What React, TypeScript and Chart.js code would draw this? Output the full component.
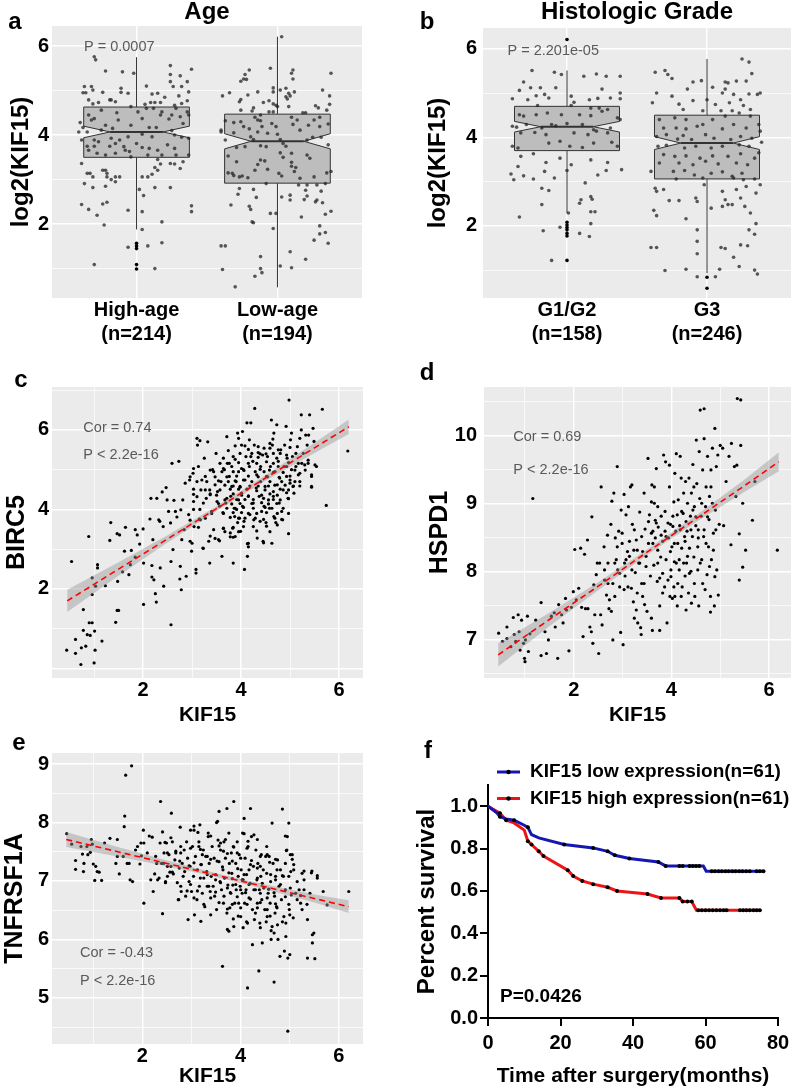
import React, { useEffect, useRef } from "react";
import { Chart, registerables } from "chart.js";

Chart.register(...registerables);
const FONT = "'Liberation Sans', Arial, Helvetica, sans-serif";
Chart.defaults.font.family = FONT;
Chart.defaults.color = "#000";

// ---------------- Panel a: Age box plot ----------------
const ageGroups = ["High-age", "Low-age"];
const ageCounts = [214, 194];
const ageQ1 = [3.5, 2.92];
const ageMedian = [4.07, 3.86];
const ageQ3 = [4.63, 4.47];
const ageWhiskerLow = [1.88, 0.58];
const ageWhiskerHigh = [5.75, 6.21];
const ageNotch = [0.13, 0.17];
const highAgeOutliers = [1.57, 1.51, 1.45, 1.09, 0.99];
const lowAgeOutliers: number[] = [];
// [jitter offset from group centre, log2(KIF15)]
const highAgeJitter = [[-0.30,5.76],[-0.29,5.69],[-0.22,5.44],[-0.10,5.42],[-0.02,5.39],[0.24,5.56],[0.39,5.48],[0.24,5.36],[0.31,5.33],[0.24,5.20],[0.36,5.20],[-0.37,5.09],[-0.32,5.09],[0.07,5.10],[0.26,5.09],[-0.31,5.01],[-0.11,5.05],[0.32,5.09],[-0.38,4.95],[-0.36,4.95],[-0.24,4.96],[-0.11,4.96],[-0.06,4.94],[0.11,4.92],[0.15,4.94],[0.37,4.97],[0.30,4.88],[0.20,4.85],[-0.34,4.79],[0.36,4.77],[-0.19,4.79],[-0.18,4.79],[-0.27,4.73],[-0.15,4.75],[-0.31,4.70],[0.10,4.73],[0.13,4.73],[0.17,4.73],[0.06,4.69],[0.27,4.67],[0.32,4.71],[0.28,4.60],[0.07,4.60],[0.12,4.60],[-0.04,4.64],[-0.25,4.56],[-0.14,4.50],[0.01,4.52],[0.18,4.52],[0.36,4.52],[-0.34,4.45],[-0.30,4.37],[-0.32,4.34],[-0.13,4.34],[0.17,4.45],[0.25,4.45],[0.31,4.41],[0.04,4.37],[0.23,4.36],[0.37,4.45],[-0.40,4.28],[-0.38,4.17],[-0.22,4.22],[-0.17,4.15],[-0.04,4.22],[0.09,4.17],[0.14,4.17],[0.33,4.26],[0.25,4.10],[-0.35,4.07],[-0.25,4.11],[-0.41,4.07],[-0.30,3.89],[-0.18,3.93],[-0.12,3.89],[-0.06,3.96],[0.04,4.02],[0.11,3.96],[0.27,4.00],[0.32,3.95],[0.37,3.93],[-0.39,3.89],[-0.27,3.85],[-0.15,3.81],[0.00,3.81],[-0.35,3.75],[-0.30,3.75],[-0.19,3.75],[-0.09,3.74],[0.04,3.72],[0.22,3.78],[0.27,3.70],[0.09,3.70],[-0.34,3.66],[-0.08,3.66],[-0.05,3.63],[0.15,3.66],[-0.22,3.55],[-0.15,3.59],[-0.04,3.51],[0.08,3.55],[0.18,3.55],[0.28,3.55],[0.37,3.55],[-0.28,3.59],[-0.39,3.36],[0.15,3.45],[0.17,3.35],[0.24,3.36],[0.27,3.35],[0.33,3.40],[0.13,3.27],[0.15,3.21],[0.31,3.25],[-0.24,3.21],[-0.22,3.21],[-0.35,3.14],[-0.33,3.14],[-0.21,3.14],[0.11,3.12],[-0.31,3.06],[-0.21,3.06],[-0.15,3.06],[-0.12,3.06],[0.04,3.06],[0.08,3.06],[-0.18,3.00],[-0.15,2.95],[-0.37,2.91],[-0.22,2.85],[-0.31,2.82],[0.02,2.78],[0.13,2.82],[0.24,2.82],[0.05,2.64],[-0.39,2.44],[-0.24,2.45],[-0.21,2.49],[-0.34,2.33],[-0.06,2.31],[0.04,2.28],[0.39,2.41],[0.39,2.28],[-0.28,2.20],[0.18,2.05],[-0.23,1.98],[0.04,1.88],[-0.06,1.48],[0.08,1.51],[0.18,1.58],[-0.30,1.09],[0.13,1.00]];
const lowAgeJitter = [[0.03,6.21],[-0.20,5.46],[-0.23,5.36],[-0.24,5.26],[-0.22,5.25],[-0.26,5.21],[-0.05,5.50],[0.11,5.46],[0.10,5.39],[0.11,5.26],[0.38,5.39],[0.32,5.01],[-0.34,4.95],[-0.39,4.88],[-0.03,5.06],[-0.03,4.97],[-0.14,4.97],[-0.21,4.90],[0.02,5.01],[0.06,5.05],[0.08,4.94],[0.12,4.97],[0.09,4.88],[0.06,4.86],[0.07,4.81],[0.37,4.88],[-0.26,4.80],[-0.27,4.75],[-0.10,4.73],[-0.06,4.77],[0.37,4.69],[0.27,4.66],[0.29,4.61],[-0.17,4.61],[-0.03,4.70],[-0.01,4.67],[0.00,4.64],[0.08,4.64],[-0.26,4.56],[-0.18,4.54],[-0.06,4.52],[-0.03,4.52],[0.35,4.56],[0.18,4.50],[0.20,4.50],[-0.12,4.45],[-0.37,4.32],[-0.31,4.28],[-0.26,4.30],[-0.16,4.40],[-0.14,4.34],[-0.12,4.32],[0.10,4.40],[0.14,4.34],[0.26,4.34],[0.30,4.40],[-0.40,4.11],[-0.40,4.07],[-0.31,4.05],[-0.24,4.19],[-0.20,4.14],[-0.11,4.19],[-0.04,4.26],[-0.01,4.19],[0.11,4.24],[0.16,4.11],[0.22,4.22],[0.30,4.19],[0.36,4.25],[-0.37,3.89],[-0.19,3.96],[-0.17,3.90],[-0.14,4.07],[-0.07,4.04],[0.00,4.02],[0.02,3.90],[0.04,3.81],[0.21,3.89],[0.25,3.95],[0.31,3.95],[0.36,3.78],[-0.29,3.72],[-0.23,3.74],[-0.12,3.76],[-0.08,3.74],[0.06,3.75],[-0.35,3.53],[0.02,3.60],[0.04,3.50],[0.10,3.59],[0.21,3.55],[0.23,3.48],[-0.29,3.40],[-0.12,3.44],[-0.09,3.42],[-0.14,3.34],[-0.07,3.23],[0.10,3.39],[0.10,3.30],[0.13,3.27],[-0.16,3.21],[0.12,3.18],[-0.35,3.15],[-0.32,3.14],[-0.31,3.09],[-0.27,3.06],[-0.25,3.08],[-0.21,3.04],[0.01,3.14],[0.03,3.08],[0.16,3.03],[0.26,3.06],[0.35,3.15],[0.38,3.18],[-0.08,2.91],[0.15,2.88],[0.21,2.88],[0.28,2.88],[0.34,2.91],[-0.27,2.80],[-0.17,2.78],[0.20,2.76],[0.31,2.74],[-0.28,2.67],[0.03,2.61],[0.09,2.65],[0.21,2.63],[-0.15,2.60],[0.09,2.54],[0.19,2.55],[0.28,2.54],[0.27,2.50],[0.32,2.48],[-0.33,2.43],[-0.20,2.40],[-0.19,2.33],[0.38,2.29],[-0.05,2.24],[-0.01,2.24],[0.34,2.22],[0.17,2.16],[-0.18,2.05],[-0.17,2.03],[0.30,1.96],[-0.03,1.90],[0.30,1.78],[0.34,1.81],[0.26,1.64],[0.36,1.57],[-0.40,1.51],[-0.37,1.51],[0.09,1.38],[0.20,1.21],[-0.12,1.27],[0.02,1.06],[-0.39,0.98],[-0.12,1.00],[-0.11,0.91],[0.10,1.02],[-0.16,0.83],[-0.30,0.59]];

// ---------------- Panel b: Histologic grade box plot ----------------
const gradeGroups = ["G1/G2", "G3"];
const gradeCounts = [158, 246];
const gradeQ1 = [3.7, 3.06];
const gradeMedian = [4.24, 3.87];
const gradeQ3 = [4.7, 4.5];
const gradeWhiskerLow = [2.29, 0.93];
const gradeWhiskerHigh = [5.51, 5.77];
const gradeNotch = [0.12, 0.145];
const g12Outliers = [6.21, 2.08, 2.02, 1.96, 1.91, 1.83, 1.77, 1.22];
const g3Outliers = [0.84, 0.59];
const g12Jitter = [[-0.25,5.51],[-0.09,5.47],[-0.04,5.42],[0.12,5.38],[0.21,5.43],[0.28,5.38],[0.38,5.38],[-0.31,5.25],[-0.34,5.06],[-0.26,5.12],[-0.19,5.12],[-0.08,5.12],[0.25,5.09],[-0.16,4.97],[-0.22,4.94],[0.03,4.93],[-0.39,4.87],[-0.28,4.85],[-0.13,4.89],[0.05,4.79],[0.16,4.85],[0.22,4.88],[0.38,4.87],[0.38,5.00],[0.31,4.89],[0.03,4.72],[-0.21,4.72],[0.17,4.66],[0.23,4.66],[0.29,4.63],[-0.34,4.51],[-0.31,4.48],[-0.22,4.51],[-0.14,4.55],[-0.04,4.51],[0.09,4.51],[0.17,4.49],[0.25,4.59],[0.36,4.44],[-0.39,4.25],[-0.36,4.23],[-0.29,4.29],[-0.18,4.21],[-0.11,4.29],[-0.08,4.26],[0.00,4.31],[0.11,4.29],[0.19,4.17],[0.21,4.14],[0.31,4.21],[0.38,4.40],[-0.33,4.10],[-0.23,4.11],[-0.15,4.06],[0.05,4.10],[0.15,4.06],[0.29,4.10],[-0.39,3.80],[-0.35,3.76],[-0.13,3.87],[-0.05,3.91],[0.02,3.80],[0.11,3.77],[0.19,3.87],[0.32,3.89],[0.36,3.80],[-0.33,3.57],[-0.24,3.63],[-0.15,3.43],[-0.05,3.53],[0.03,3.38],[0.17,3.49],[0.29,3.43],[-0.35,3.34],[-0.40,3.17],[-0.38,3.04],[-0.31,3.13],[-0.24,3.06],[-0.16,3.23],[-0.09,3.08],[0.00,3.25],[0.22,3.15],[0.28,3.25],[0.39,3.27],[-0.18,2.85],[-0.13,2.80],[0.13,2.97],[0.17,2.66],[0.18,2.60],[0.10,2.59],[0.09,2.51],[-0.18,2.48],[-0.34,2.20],[0.17,2.32],[0.20,2.32],[0.01,2.29],[0.17,2.05],[-0.05,1.97],[-0.17,1.89],[0.09,1.83],[0.16,1.76],[-0.11,1.22]];
const g3Jitter = [[0.25,5.77],[0.30,5.70],[-0.37,5.47],[-0.30,5.51],[-0.28,5.42],[-0.25,5.33],[-0.10,5.25],[-0.04,5.28],[0.32,5.44],[0.13,5.25],[0.15,5.23],[0.21,5.27],[0.28,5.27],[-0.14,5.09],[0.04,5.13],[0.13,5.09],[-0.36,5.00],[-0.25,4.93],[0.11,5.00],[0.19,4.97],[0.30,4.98],[0.36,4.97],[0.38,5.00],[-0.39,4.78],[-0.20,4.75],[-0.10,4.83],[0.00,4.85],[0.06,4.74],[0.16,4.78],[0.24,4.85],[0.26,4.72],[0.31,4.63],[-0.17,4.63],[-0.03,4.60],[0.10,4.60],[0.18,4.60],[0.23,4.55],[-0.34,4.40],[-0.23,4.44],[-0.15,4.40],[0.04,4.40],[0.13,4.48],[0.31,4.48],[-0.31,4.21],[-0.22,4.21],[-0.15,4.19],[-0.07,4.25],[-0.03,4.29],[0.11,4.19],[0.19,4.29],[0.28,4.21],[0.37,4.29],[0.38,4.14],[-0.36,4.02],[-0.29,4.06],[-0.21,3.96],[-0.17,4.04],[-0.11,3.95],[-0.01,4.06],[0.05,3.98],[0.17,3.95],[0.24,4.02],[0.32,3.98],[0.39,3.89],[-0.35,3.80],[-0.29,3.82],[-0.16,3.76],[-0.08,3.80],[0.03,3.76],[0.11,3.80],[0.23,3.83],[0.30,3.80],[0.37,3.65],[-0.31,3.61],[-0.23,3.57],[-0.15,3.58],[-0.05,3.53],[0.04,3.58],[0.15,3.57],[0.24,3.63],[0.34,3.53],[-0.34,3.42],[-0.20,3.42],[-0.10,3.38],[-0.01,3.46],[0.08,3.40],[0.21,3.42],[0.29,3.38],[-0.24,3.23],[-0.16,3.25],[-0.09,3.15],[0.03,3.19],[0.11,3.22],[0.18,3.12],[0.25,3.19],[-0.40,3.23],[-0.22,3.06],[-0.03,3.08],[0.19,3.08],[0.26,3.04],[0.34,3.06],[0.38,2.93],[-0.37,2.85],[-0.36,2.78],[-0.31,2.82],[-0.02,2.93],[0.11,2.78],[0.21,2.82],[0.28,2.89],[0.35,2.74],[-0.08,2.63],[-0.07,2.55],[-0.27,2.57],[-0.20,2.57],[0.13,2.59],[0.24,2.63],[0.18,2.48],[0.03,2.40],[0.11,2.44],[0.15,2.48],[0.27,2.44],[0.31,2.29],[-0.38,2.35],[-0.36,2.23],[-0.15,2.16],[0.35,2.05],[0.30,1.91],[-0.07,1.91],[0.34,1.81],[-0.07,1.65],[-0.40,1.51],[-0.36,1.51],[0.10,1.51],[0.13,1.49],[0.24,1.57],[0.29,1.55],[-0.07,1.37],[0.19,1.29],[-0.15,1.02],[-0.30,0.99],[0.09,1.02],[0.23,1.08],[0.34,1.00],[0.36,0.91],[-0.07,0.85],[0.06,0.85]];

// ---------------- Panels c, d, e: correlation with KIF15 ----------------
// [KIF15, gene]
const birc5Points = [[0.44,0.46],[0.62,0.73],[0.62,0.38],[0.73,0.10],[0.74,0.52],[0.78,1.48],[0.78,0.96],[0.83,0.56],[0.86,0.85],[0.90,1.15],[0.92,0.83],[0.96,1.15],[1.00,0.14],[1.01,0.94],[1.02,0.46],[1.16,0.69],[0.54,2.69],[0.89,3.32],[0.96,2.28],[0.96,1.86],[1.07,2.61],[1.07,2.53],[1.03,2.07],[1.23,2.08],[1.34,3.67],[1.32,3.22],[1.44,1.16],[1.47,1.46],[1.50,1.46],[1.47,3.39],[1.52,3.36],[1.48,2.19],[1.58,2.43],[1.62,2.95],[1.64,3.55],[1.71,2.36],[1.76,2.97],[1.74,2.61],[1.84,3.49],[1.84,2.80],[1.88,3.36],[1.93,3.13],[2.00,3.51],[2.01,2.65],[2.01,1.61],[2.14,3.76],[2.16,4.28],[2.20,3.24],[2.18,2.59],[2.18,2.30],[2.22,2.23],[2.25,1.88],[2.27,1.67],[2.28,4.28],[2.32,3.74],[2.34,3.70],[2.35,2.53],[2.39,4.44],[2.41,3.57],[2.42,2.07],[2.47,4.55],[2.49,4.24],[2.52,3.95],[2.56,3.66],[2.57,2.69],[2.57,1.10],[2.59,5.16],[2.61,2.99],[2.63,4.23],[2.66,3.95],[2.69,3.81],[2.73,5.21],[2.75,2.25],[2.76,2.57],[2.77,3.99],[2.78,1.98],[2.79,3.24],[2.81,4.24],[2.84,3.49],[2.86,4.66],[2.88,2.32],[2.93,3.87],[2.95,4.74],[2.96,3.20],[3.00,3.15],[2.99,2.95],[3.02,4.91],[3.03,4.38],[3.03,4.20],[3.04,3.57],[3.08,2.49],[3.08,2.40],[3.10,5.79],[3.11,5.62],[3.13,5.08],[3.15,3.76],[3.17,3.74],[3.18,4.49],[3.20,4.74],[3.22,3.03],[3.23,4.16],[3.25,5.29],[3.27,4.83],[3.29,4.28],[3.32,5.70],[3.34,3.20],[3.36,4.49],[3.36,2.65],[3.37,4.37],[3.40,3.95],[3.42,5.00],[3.44,3.49],[3.47,4.62],[3.49,5.41],[3.51,4.20],[3.52,4.45],[3.54,3.24],[3.56,4.08],[3.57,5.16],[3.59,4.70],[3.61,2.82],[3.63,3.92],[3.64,3.53],[3.66,5.00],[3.67,4.24],[3.69,4.16],[3.71,5.83],[3.72,5.16],[3.74,5.48],[3.76,4.83],[3.78,3.31],[3.79,4.33],[3.81,4.58],[3.83,3.53],[3.84,2.65],[3.86,4.03],[3.87,3.82],[3.88,3.32],[3.88,5.26],[3.90,4.70],[3.91,4.00],[3.93,3.67],[3.93,5.92],[3.95,4.24],[3.95,4.95],[3.97,3.78],[3.98,4.58],[3.99,3.45],[4.01,5.62],[4.01,4.41],[4.03,4.08],[4.05,5.00],[4.06,3.70],[4.07,2.49],[4.08,4.74],[4.10,5.33],[4.12,6.18],[4.13,3.14],[4.13,2.82],[4.15,4.33],[4.17,5.75],[4.18,3.87],[4.20,6.18],[4.22,4.70],[4.24,5.21],[4.25,4.16],[4.26,3.74],[4.28,6.54],[4.31,4.54],[4.32,4.87],[4.33,3.28],[4.35,5.58],[4.37,4.33],[4.39,3.70],[4.40,5.08],[4.42,3.95],[4.44,5.37],[4.45,3.20],[4.47,4.08],[4.49,4.58],[4.51,3.67],[4.52,4.83],[4.54,5.33],[4.56,4.24],[4.58,4.03],[4.59,4.70],[4.60,5.08],[4.62,6.25],[4.64,5.62],[4.66,4.33],[4.67,3.82],[4.69,4.95],[4.71,3.67],[4.73,6.13],[4.74,4.62],[4.76,5.21],[4.78,4.16],[4.79,4.79],[4.81,5.50],[4.83,3.95],[4.85,3.74],[4.86,4.49],[4.88,5.08],[4.89,5.62],[4.92,6.09],[4.93,4.83],[4.94,5.29],[4.96,4.28],[4.97,3.39],[4.98,6.75],[5.00,4.66],[5.01,5.75],[5.03,5.00],[5.05,5.33],[5.06,4.58],[5.08,4.41],[5.10,4.70],[5.12,5.08],[5.15,5.58],[5.17,5.16],[5.20,4.91],[5.23,6.38],[5.23,6.00],[5.27,5.41],[5.30,5.12],[5.32,5.87],[5.35,5.62],[5.37,5.16],[5.40,6.38],[5.44,4.83],[5.44,4.58],[5.47,6.04],[5.51,5.12],[5.54,5.08],[5.66,6.52],[5.74,4.10],[6.18,5.47]];
const birc5CorePoints = [[4.03,5.96],[4.67,5.92],[5.38,5.87],[3.95,5.79],[5.03,5.92],[5.20,5.79],[3.16,5.73],[4.65,5.77],[4.59,5.66],[5.49,5.71],[3.88,5.60],[4.08,5.60],[4.27,5.62],[5.00,5.56],[4.15,5.51],[4.47,5.54],[4.59,5.54],[4.76,5.50],[3.98,5.41],[4.22,5.41],[4.35,5.43],[4.39,5.40],[4.51,5.40],[4.66,5.41],[4.80,5.41],[4.93,5.37],[5.12,5.41],[3.64,5.29],[3.84,5.33],[4.20,5.33],[4.35,5.31],[4.73,5.29],[5.37,5.24],[3.76,5.16],[3.95,5.18],[4.15,5.16],[4.32,5.16],[4.52,5.20],[4.66,5.16],[4.97,5.18],[5.24,5.16],[3.03,5.03],[3.37,4.99],[3.64,5.03],[3.81,5.08],[4.01,5.03],[4.17,5.08],[4.39,5.01],[4.58,4.99],[4.76,5.08],[4.93,5.08],[5.10,4.99],[5.31,4.99],[3.44,4.95],[3.61,4.95],[3.84,4.95],[4.06,4.98],[4.29,4.95],[4.47,4.95],[4.66,4.93],[4.86,4.93],[2.96,4.82],[3.47,4.82],[3.71,4.82],[3.91,4.84],[4.15,4.84],[4.35,4.82],[4.54,4.82],[4.78,4.81],[5.00,4.84],[5.17,4.87],[5.44,4.87],[3.10,4.70],[3.30,4.70],[3.54,4.72],[3.74,4.70],[3.88,4.72],[4.05,4.74],[4.40,4.70],[4.83,4.70],[5.00,4.74],[5.20,4.70],[3.67,4.61],[3.84,4.59],[3.98,4.56],[4.18,4.59],[4.35,4.59],[4.56,4.59],[4.69,4.61],[4.90,4.61],[5.07,4.59],[5.20,4.59],[5.44,4.56],[3.03,4.51],[3.27,4.49],[3.57,4.49],[3.78,4.51],[3.95,4.51],[4.12,4.51],[4.32,4.47],[4.49,4.49],[4.66,4.45],[4.80,4.51],[4.97,4.49],[3.37,4.39],[3.50,4.36],[3.84,4.39],[4.01,4.36],[4.15,4.34],[4.42,4.36],[4.59,4.39],[4.74,4.36],[4.93,4.42],[3.10,4.32],[3.71,4.28],[3.91,4.25],[4.08,4.25],[4.25,4.25],[4.46,4.28],[4.66,4.25],[4.80,4.24],[4.97,4.27],[3.54,4.15],[3.81,4.14],[3.98,4.15],[4.22,4.15],[4.42,4.17],[4.56,4.14],[4.73,4.15],[3.03,4.00],[3.16,4.00],[3.71,4.03],[3.88,4.03],[4.05,4.05],[4.25,4.03],[4.49,4.05],[4.63,4.03],[4.86,4.03],[3.40,3.90],[3.64,3.90],[3.84,3.92],[4.01,3.92],[4.15,3.90],[4.32,3.90],[4.52,3.92],[4.74,3.90],[4.97,3.90],[2.96,3.73],[3.27,3.78],[3.78,3.80],[3.95,3.78],[4.08,3.78],[4.29,3.78],[4.46,3.75],[4.69,3.78],[4.83,3.75],[3.13,3.55],[3.64,3.52],[3.84,3.55],[4.05,3.57],[4.25,3.57],[4.52,3.58],[4.74,3.61],[3.67,3.44],[3.78,3.41],[3.95,3.44],[4.32,3.46],[4.59,3.44],[3.37,3.33],[3.84,3.30],[3.47,3.27],[3.56,3.21],[4.15,3.15],[4.46,3.16],[4.63,3.15],[3.23,3.02],[4.15,3.06]];
const hspd1Points = [[0.46,7.10],[0.54,6.98],[0.63,7.19],[0.63,7.02],[0.71,6.90],[0.76,7.33],[0.78,7.08],[0.81,6.98],[0.86,7.37],[0.88,7.12],[0.90,6.85],[0.93,7.29],[0.97,6.95],[0.99,6.73],[1.00,6.68],[1.01,7.00],[1.05,7.35],[1.07,6.83],[1.10,7.09],[1.16,9.08],[1.22,7.29],[1.33,7.55],[1.33,6.77],[1.41,7.12],[1.44,6.80],[1.48,7.00],[1.54,7.35],[1.60,7.40],[1.62,7.19],[1.67,6.73],[1.69,7.52],[1.75,7.37],[1.78,7.25],[1.83,7.61],[1.85,7.44],[1.90,6.84],[1.95,7.48],[1.99,7.71],[2.02,8.33],[2.05,7.59],[2.10,7.76],[2.14,8.35],[2.16,7.48],[2.19,7.05],[2.22,8.26],[2.24,7.46],[2.28,8.47],[2.29,7.46],[2.33,7.19],[2.36,7.12],[2.37,8.81],[2.39,6.95],[2.41,7.81],[2.43,7.37],[2.46,7.96],[2.48,8.13],[2.51,6.80],[2.53,8.13],[2.55,7.37],[2.56,9.25],[2.58,7.22],[2.62,8.37],[2.63,7.88],[2.67,7.66],[2.69,8.54],[2.70,7.83],[2.72,7.46],[2.73,7.59],[2.76,8.70],[2.77,7.42],[2.78,9.04],[2.80,7.00],[2.82,9.16],[2.84,8.13],[2.85,8.50],[2.87,8.18],[2.89,9.55],[2.90,8.03],[2.92,8.60],[2.94,7.78],[2.96,7.11],[2.97,8.91],[2.99,8.57],[3.01,6.93],[3.03,9.14],[3.04,8.13],[3.05,7.94],[3.07,8.84],[3.10,8.30],[3.11,7.78],[3.12,8.96],[3.14,8.45],[3.16,9.25],[3.18,7.76],[3.19,9.28],[3.20,8.70],[3.22,7.56],[3.23,8.32],[3.24,7.32],[3.26,7.99],[3.28,8.47],[3.30,7.69],[3.31,7.25],[3.33,8.13],[3.35,8.88],[3.37,7.18],[3.38,7.08],[3.39,7.83],[3.41,8.30],[3.44,9.16],[3.45,7.52],[3.46,8.63],[3.48,8.08],[3.50,7.42],[3.52,9.67],[3.53,8.42],[3.55,8.84],[3.57,7.94],[3.59,7.32],[3.60,9.28],[3.61,7.14],[3.62,8.60],[3.64,8.10],[3.65,9.01],[3.67,8.76],[3.67,8.50],[3.69,9.52],[3.71,7.86],[3.72,8.32],[3.73,8.66],[3.76,7.50],[3.76,7.14],[3.78,8.22],[3.79,8.82],[3.82,7.98],[3.82,8.45],[3.84,9.72],[3.86,7.78],[3.87,8.60],[3.88,9.62],[3.89,8.18],[3.91,7.25],[3.93,7.88],[3.94,8.50],[3.96,9.57],[3.97,7.64],[3.98,8.70],[3.99,8.03],[4.01,8.37],[4.02,7.61],[4.03,8.82],[4.05,7.78],[4.06,8.15],[4.07,9.45],[4.09,8.60],[4.10,9.74],[4.12,7.50],[4.13,8.42],[4.14,9.06],[4.16,8.03],[4.17,8.68],[4.18,9.70],[4.20,9.38],[4.21,8.35],[4.22,7.78],[4.24,8.86],[4.25,9.16],[4.27,8.52],[4.28,7.94],[4.29,9.33],[4.31,8.13],[4.32,8.60],[4.33,9.01],[4.35,7.69],[4.36,9.38],[4.37,8.35],[4.39,8.82],[4.40,8.01],[4.41,9.16],[4.43,8.52],[4.44,9.58],[4.46,8.22],[4.47,8.96],[4.48,7.64],[4.50,8.68],[4.51,9.94],[4.52,9.30],[4.54,8.03],[4.55,8.50],[4.56,7.50],[4.57,9.77],[4.58,9.08],[4.59,10.38],[4.61,8.82],[4.62,8.18],[4.64,9.50],[4.66,8.52],[4.67,10.40],[4.67,9.96],[4.69,7.74],[4.70,8.96],[4.71,9.25],[4.73,7.96],[4.74,9.70],[4.76,8.37],[4.77,8.77],[4.78,9.11],[4.80,7.64],[4.81,9.50],[4.82,8.18],[4.84,9.82],[4.86,8.57],[4.88,7.50],[4.89,10.11],[4.90,8.91],[4.92,9.55],[4.93,8.03],[4.95,9.72],[4.96,7.66],[4.98,8.70],[5.00,9.86],[5.05,9.82],[5.07,8.68],[5.12,9.33],[5.18,9.70],[5.22,8.40],[5.23,9.89],[5.29,9.55],[5.32,9.11],[5.34,9.57],[5.35,10.55],[5.39,8.56],[5.39,7.88],[5.42,10.53],[5.42,9.86],[5.46,9.01],[5.46,8.07],[5.52,8.32],[5.66,8.76],[5.71,9.33],[6.17,8.32]];
const hspd1CorePoints = [[3.53,8.74],[3.59,8.57],[3.62,8.42],[3.69,8.72],[3.72,8.13],[3.76,7.91],[3.79,8.54],[3.82,7.69],[3.87,8.89],[3.72,8.96],[3.65,9.25],[3.59,9.03],[3.89,8.52],[3.93,8.72],[3.98,8.30],[4.03,8.67],[4.06,8.42],[4.10,8.13],[4.12,8.84],[4.13,7.83],[4.05,9.03],[3.96,9.25],[3.99,7.93],[4.07,7.64],[4.16,8.18],[4.18,8.62],[4.21,8.89],[4.25,8.13],[4.28,8.45],[4.30,8.74],[4.33,8.23],[4.37,7.98],[4.40,8.62],[4.44,8.91],[4.46,9.25],[4.41,7.54],[4.20,7.64],[4.30,7.44],[4.47,7.83],[4.50,8.81],[4.54,8.37],[4.55,8.62],[4.59,8.13],[4.62,9.01],[4.64,7.83],[4.67,8.62],[4.71,8.42],[4.74,8.81],[4.78,8.08],[4.81,9.25],[4.84,9.01],[4.86,8.32],[4.89,7.93],[4.91,8.62],[4.80,7.41],[3.14,8.23],[3.19,8.03],[3.24,8.62],[3.30,8.32],[3.35,8.13],[3.39,8.52],[3.44,7.83],[3.48,8.23],[3.28,7.44],[3.41,7.64],[2.70,8.13],[2.80,7.83],[2.89,8.37],[2.94,7.98],[3.03,7.74],[3.07,8.18],[2.99,8.42],[2.84,7.64],[2.63,8.03]];
const tnfrsf1aPoints = [[0.46,7.81],[0.56,7.63],[0.64,7.35],[0.64,7.20],[0.75,7.59],[0.78,7.46],[0.81,7.30],[0.80,7.16],[0.87,7.59],[0.89,7.45],[0.94,7.49],[0.96,7.71],[0.98,7.63],[1.00,7.29],[1.03,7.01],[1.05,7.25],[1.08,7.16],[1.12,7.15],[1.17,7.01],[1.23,7.65],[1.34,7.73],[1.46,7.30],[1.49,7.42],[1.49,7.71],[1.53,7.12],[1.61,7.42],[1.63,7.93],[1.64,8.11],[1.66,8.81],[1.69,7.30],[1.73,7.30],[1.75,7.02],[1.78,8.97],[1.80,6.99],[1.86,7.53],[1.90,7.59],[1.95,7.29],[1.97,7.65],[1.98,7.43],[2.02,7.87],[2.03,6.62],[2.03,7.65],[2.10,7.48],[2.14,7.77],[2.17,7.02],[2.20,7.75],[2.22,6.82],[2.25,7.12],[2.27,7.42],[2.29,7.30],[2.31,7.02],[2.34,7.05],[2.36,7.65],[2.37,8.36],[2.41,6.44],[2.41,7.84],[2.43,7.30],[2.44,7.48],[2.46,7.66],[2.47,6.99],[2.51,7.25],[2.54,7.45],[2.56,7.15],[2.59,8.16],[2.61,7.67],[2.63,7.12],[2.66,7.36],[2.68,7.48],[2.71,6.97],[2.73,6.68],[2.75,7.22],[2.77,7.92],[2.78,7.59],[2.79,6.82],[2.81,7.30],[2.83,7.08],[2.85,7.53],[2.86,7.16],[2.88,6.74],[2.90,7.67],[2.92,7.39],[2.93,6.34],[2.95,6.99],[2.97,7.25],[2.98,7.87],[3.00,6.82],[3.02,7.59],[3.04,7.08],[3.05,7.94],[3.06,6.42],[3.08,7.42],[3.11,6.68],[3.12,7.19],[3.13,7.83],[3.15,7.67],[3.16,6.91],[3.17,7.96],[3.19,6.31],[3.20,7.28],[3.22,6.79],[3.24,7.53],[3.25,7.05],[3.27,6.56],[3.29,7.42],[3.31,7.16],[3.32,6.91],[3.34,7.76],[3.36,7.30],[3.38,6.82],[3.39,6.42],[3.40,7.08],[3.42,7.59],[3.44,6.91],[3.46,7.39],[3.47,6.74],[3.49,7.11],[3.51,6.51],[3.53,8.02],[3.54,7.70],[3.56,8.19],[3.56,7.33],[3.58,6.99],[3.59,7.53],[3.61,6.85],[3.63,5.54],[3.64,7.19],[3.65,6.62],[3.66,7.67],[3.67,7.05],[3.69,7.39],[3.72,8.24],[3.73,6.17],[3.74,6.93],[3.76,7.82],[3.76,6.14],[3.77,7.30],[3.78,6.54],[3.80,6.79],[3.81,7.48],[3.82,7.13],[3.84,6.93],[3.85,7.59],[3.86,8.36],[3.86,6.22],[3.88,6.62],[3.90,7.30],[3.91,6.85],[3.93,7.67],[3.95,7.08],[3.96,6.62],[3.97,7.45],[3.99,6.91],[4.00,6.39],[4.01,7.19],[4.03,6.79],[4.04,7.82],[4.05,7.02],[4.07,8.07],[4.08,6.62],[4.09,7.39],[4.11,6.85],[4.12,7.11],[4.14,5.17],[4.14,6.28],[4.15,7.59],[4.17,6.71],[4.19,6.96],[4.20,8.24],[4.22,7.76],[4.24,5.91],[4.24,6.51],[4.26,7.25],[4.27,6.85],[4.28,6.34],[4.31,7.53],[4.33,7.02],[4.34,6.62],[4.35,7.30],[4.37,5.46],[4.38,6.85],[4.39,6.28],[4.41,7.08],[4.42,7.45],[4.44,5.94],[4.43,6.68],[4.46,7.19],[4.47,6.88],[4.49,6.51],[4.51,7.42],[4.53,7.13],[4.54,6.39],[4.56,6.79],[4.58,7.42],[4.60,6.62],[4.61,6.99],[4.62,6.00],[4.64,6.22],[4.64,7.99],[4.66,7.30],[4.68,5.27],[4.68,6.11],[4.69,6.74],[4.71,7.08],[4.73,6.56],[4.75,7.36],[4.76,6.00],[4.78,6.91],[4.80,5.71],[4.81,7.19],[4.83,6.68],[4.85,8.23],[4.87,7.08],[4.88,6.39],[4.89,5.80],[4.91,6.85],[4.92,6.28],[4.94,7.53],[4.95,7.76],[4.96,5.68],[4.96,4.43],[4.98,7.99],[4.99,6.51],[5.00,5.74],[5.02,7.16],[5.03,6.76],[5.05,7.45],[5.07,6.37],[5.08,7.19],[5.12,6.79],[5.15,6.99],[5.19,6.85],[5.22,6.62],[5.25,7.13],[5.25,6.51],[5.29,6.85],[5.36,6.34],[5.36,5.68],[5.41,6.79],[5.44,7.14],[5.46,6.08],[5.46,5.94],[5.49,6.11],[5.51,5.67],[5.56,7.05],[5.68,6.82],[5.76,6.59],[6.20,6.82]];
const tnfrsf1aCorePoints = [[3.51,8.00],[3.05,7.87],[4.27,7.79],[4.91,7.77],[3.34,7.82],[3.39,7.77],[4.07,7.81],[3.69,7.71],[3.59,7.65],[2.58,7.74],[2.49,7.65],[4.15,7.68],[4.34,7.71],[3.56,7.60],[3.15,7.59],[4.13,7.56],[3.18,7.54],[2.98,7.56],[3.86,7.58],[4.53,7.59],[4.93,7.52],[3.65,7.51],[3.93,7.48],[5.01,7.45],[2.51,7.48],[2.68,7.51],[2.78,7.48],[3.22,7.45],[3.32,7.42],[3.73,7.47],[4.40,7.42],[4.54,7.45],[4.71,7.37],[5.05,7.37],[3.39,7.37],[4.00,7.39],[4.22,7.35],[3.52,7.34],[3.83,7.34],[3.05,7.31],[2.76,7.34],[3.19,7.28],[4.20,7.28],[4.40,7.25],[4.59,7.32],[4.91,7.30],[5.08,7.28],[2.39,7.30],[2.58,7.25],[2.95,7.26],[3.63,7.24],[3.94,7.21],[4.17,7.19],[4.34,7.22],[4.74,7.19],[5.29,7.17],[5.45,7.17],[2.61,7.15],[3.32,7.11],[3.76,7.14],[4.07,7.11],[4.61,7.11],[4.85,7.09],[4.98,7.08],[5.56,7.09],[2.51,7.08],[3.18,7.05],[3.49,7.02],[3.83,7.04],[4.03,7.02],[4.34,7.05],[4.71,7.02],[5.29,7.02],[2.47,6.97],[3.59,6.97],[3.90,6.94],[4.17,6.94],[4.44,6.96],[4.81,6.94],[2.98,6.94],[2.78,6.91],[3.35,6.91],[3.73,6.88],[4.00,6.85],[4.30,6.85],[4.57,6.86],[5.01,6.88],[2.91,6.83],[3.12,6.83],[3.49,6.81],[3.79,6.80],[4.10,6.80],[4.40,6.79],[4.68,6.80],[2.74,6.68],[3.05,6.71],[3.39,6.71],[3.66,6.74],[3.93,6.73],[4.20,6.69],[4.54,6.71],[4.91,6.73],[5.22,6.75],[5.15,6.68],[3.25,6.60],[3.56,6.63],[3.83,6.60],[4.13,6.60],[4.40,6.63],[4.71,6.61],[4.98,6.60],[5.35,6.60],[3.73,6.52],[4.00,6.54],[4.34,6.54],[4.54,6.51],[4.74,6.54],[3.72,6.45],[3.95,6.40],[4.12,6.30],[4.30,6.45],[4.52,6.30],[4.70,6.45],[4.85,6.30],[4.62,6.15],[4.92,6.05],[4.40,6.20],[4.05,6.20],[3.85,6.35],[4.75,6.25],[5.00,6.42],[4.60,6.40]];

// linear-model fits (estimate and 95% band) read at these KIF15 values
const fitKif15 = [0.45, 1.5, 2.5, 3.5, 4.5, 5.5, 6.2];
const birc5Fit = [1.70, 2.50, 3.26, 4.02, 4.79, 5.55, 6.08];
const birc5Lower = [1.42, 2.33, 3.17, 3.96, 4.72, 5.42, 5.90];
const birc5Upper = [1.98, 2.67, 3.35, 4.08, 4.86, 5.68, 6.26];
const hspd1Fit = [6.78, 7.30, 7.79, 8.29, 8.78, 9.27, 9.62];
const hspd1Lower = [6.61, 7.20, 7.73, 8.25, 8.73, 9.18, 9.48];
const hspd1Upper = [6.95, 7.40, 7.85, 8.33, 8.83, 9.36, 9.76];
const tnfFit = [7.71, 7.50, 7.30, 7.10, 6.90, 6.70, 6.56];
const tnfLower = [7.58, 7.42, 7.25, 7.07, 6.86, 6.63, 6.45];
const tnfUpper = [7.84, 7.58, 7.35, 7.13, 6.94, 6.77, 6.67];

// ---------------- Panel f: Kaplan-Meier ----------------
const kmSeries = ["KIF15 low expression(n=61)", "KIF15 high expression(n=61)"];
const kmColors = ["#1616B2", "#EC1515"];
const kmLowTime = [0, 2.5, 3.3, 5, 7.2, 10, 11, 12, 14, 21, 29, 33, 35, 39, 47, 49, 59.4, 60.2, 76];
const kmLowSurv = [1, 0.967, 0.95, 0.94, 0.934, 0.91, 0.9, 0.866, 0.85, 0.819, 0.803, 0.787, 0.768, 0.753, 0.737, 0.718, 0.718, 0.693, 0.693];
const kmHighTime = [0, 3.3, 5, 7.2, 10, 11, 12, 14, 15.3, 22, 23.5, 26, 29, 33, 35.6, 44, 47.7, 52.8, 53.7, 56.2, 57.5, 75];
const kmHighSurv = [1, 0.967, 0.934, 0.921, 0.887, 0.835, 0.819, 0.787, 0.765, 0.698, 0.67, 0.647, 0.632, 0.617, 0.6, 0.585, 0.567, 0.567, 0.55, 0.55, 0.509, 0.509];
const kmLowCensorTime = [3.3, 7.2, 11, 21, 29, 33, 35, 39, 47, 49, 52.8, 53.7, 55.6, 56.5, 57.4, 58.3, 61.7, 62.6, 63.6, 64.5, 65.5, 66.4, 67.4, 68.3, 69.3, 70.2, 71.2, 72.2, 74.1, 75.0, 76.0];
const kmLowCensorSurv = [0.95, 0.934, 0.9, 0.819, 0.803, 0.787, 0.768, 0.753, 0.737, 0.718, 0.718, 0.718, 0.718, 0.718, 0.718, 0.718, 0.693, 0.693, 0.693, 0.693, 0.693, 0.693, 0.693, 0.693, 0.693, 0.693, 0.693, 0.693, 0.693, 0.693, 0.693];
const kmHighCensorTime = [3.3, 5, 11, 12, 14, 15.3, 22, 23.5, 26, 29, 33, 35.6, 44, 47.7, 52.8, 53.7, 55, 56.2, 58, 59, 60, 61, 62, 63, 64, 65, 65.8, 69.5, 70.4, 71.3, 72.2, 73.2, 74.1, 75];
const kmHighCensorSurv = [0.967, 0.934, 0.835, 0.819, 0.787, 0.765, 0.698, 0.67, 0.647, 0.632, 0.617, 0.6, 0.585, 0.567, 0.567, 0.55, 0.55, 0.55, 0.509, 0.509, 0.509, 0.509, 0.509, 0.509, 0.509, 0.509, 0.509, 0.509, 0.509, 0.509, 0.509, 0.509, 0.509, 0.509];

// ---------------- helpers ----------------
const PANEL_BG = "#EBEBEB";
const pairPts = (arr: number[][]) => arr.map(([x, y]) => ({ x, y }));
const zipPts = (xs: number[], ys: number[]) => xs.map((x, i) => ({ x, y: ys[i] }));
const jitterPts = (centre: number, arr: number[][]) => arr.map(([dx, y]) => ({ x: centre + dx, y }));

interface Label { text: string; x: number; y: number; size: number; bold?: boolean; color?: string; align?: CanvasTextAlign; data?: boolean; centerX?: boolean; }

function bgPlugin(color: string) {
  return {
    id: "panelBg",
    beforeDraw(chart: any) {
      const a = chart.chartArea;
      const c = chart.ctx;
      c.save();
      c.fillStyle = color;
      c.fillRect(a.left, a.top, a.right - a.left, a.bottom - a.top);
      c.restore();
    },
  };
}

function labelPlugin(labels: Label[]) {
  return {
    id: "panelLabels",
    afterDraw(chart: any) {
      const c = chart.ctx;
      c.save();
      for (const l of labels) {
        let px = l.x;
        let py = l.y;
        if (l.data) {
          px = chart.scales.x.getPixelForValue(l.x);
          py = chart.scales.y.getPixelForValue(l.y);
        }
        if (l.centerX) px = (chart.chartArea.left + chart.chartArea.right) / 2;
        c.font = `${l.bold ? "bold " : ""}${l.size}px ${FONT}`;
        c.fillStyle = l.color || "#000";
        c.textAlign = l.align || "left";
        c.textBaseline = "middle";
        c.fillText(l.text, px, py);
      }
      c.restore();
    },
  };
}

interface BoxStats { q1: number[]; median: number[]; q3: number[]; lo: number[]; hi: number[]; notch: number[]; }
const BOX_HALF = 0.375;
function boxPlugin(s: BoxStats) {
  return {
    id: "notchedBoxes",
    beforeDatasetsDraw(chart: any) {
      const c = chart.ctx;
      const x = chart.scales.x;
      const y = chart.scales.y;
      const Y = (v: number) => y.getPixelForValue(v);
      c.save();
      s.median.forEach((med, i) => {
        const g = i + 1;
        const xc = x.getPixelForValue(g);
        const xl = x.getPixelForValue(g - BOX_HALF);
        const xr = x.getPixelForValue(g + BOX_HALF);
        const nl = x.getPixelForValue(g - BOX_HALF / 2);
        const nr = x.getPixelForValue(g + BOX_HALF / 2);
        c.strokeStyle = "#333333";
        c.lineWidth = 1;
        c.beginPath();
        c.moveTo(xc, Y(s.hi[i]));
        c.lineTo(xc, Y(s.q3[i]));
        c.moveTo(xc, Y(s.q1[i]));
        c.lineTo(xc, Y(s.lo[i]));
        c.stroke();
        c.beginPath();
        c.moveTo(xl, Y(s.q3[i]));
        c.lineTo(xr, Y(s.q3[i]));
        c.lineTo(xr, Y(med + s.notch[i]));
        c.lineTo(nr, Y(med));
        c.lineTo(xr, Y(med - s.notch[i]));
        c.lineTo(xr, Y(s.q1[i]));
        c.lineTo(xl, Y(s.q1[i]));
        c.lineTo(xl, Y(med - s.notch[i]));
        c.lineTo(nl, Y(med));
        c.lineTo(xl, Y(med + s.notch[i]));
        c.closePath();
        c.fillStyle = "#BDBDBD";
        c.fill();
        c.stroke();
        c.lineWidth = 2;
        c.beginPath();
        c.moveTo(nl, Y(med));
        c.lineTo(nr, Y(med));
        c.stroke();
      });
      c.restore();
    },
  };
}

function kmLegendPlugin(names: string[], colors: string[]) {
  return {
    id: "kmLegend",
    afterDraw(chart: any) {
      const c = chart.ctx;
      c.save();
      names.forEach((name, i) => {
        const yy = 42 + i * 26.5;
        c.strokeStyle = colors[i];
        c.lineWidth = 3;
        c.beginPath();
        c.moveTo(100, yy);
        c.lineTo(123, yy);
        c.stroke();
        c.fillStyle = "#000";
        c.beginPath();
        c.arc(111.5, yy, 2.2, 0, Math.PI * 2);
        c.fill();
        c.font = `bold 19px ${FONT}`;
        c.textAlign = "left";
        c.textBaseline = "middle";
        c.fillText(name, 133, yy);
      });
      c.restore();
    },
  };
}

interface AxisOpts { min: number; max: number; breaks: number[]; labeled: number[]; major: number[]; size: number; title?: string; titleSize?: number; titlePad?: number; tickPad: number; labelFn?: (v: number) => any; }

function ggAxis(o: AxisOpts, vertical: boolean) {
  return {
    type: "linear",
    position: vertical ? "left" : "bottom",
    min: o.min,
    max: o.max,
    afterBuildTicks: (s: any) => { s.ticks = o.breaks.map((v) => ({ value: v })); },
    afterFit: (s: any) => { if (vertical) s.width = o.size; else s.height = o.size; },
    ticks: {
      autoSkip: false,
      maxRotation: 0,
      minRotation: 0,
      padding: o.tickPad,
      color: "#000",
      font: { size: 20, weight: "bold" },
      callback: (v: number) => (o.labeled.includes(v) ? (o.labelFn ? o.labelFn(v) : String(v)) : ""),
    },
    grid: {
      color: "#FFFFFF",
      lineWidth: (ctx: any) => (ctx.tick && o.major.includes(ctx.tick.value) ? 1.4 : 0.7),
      drawTicks: false,
    },
    border: { display: false },
    title: o.title
      ? { display: true, text: o.title, color: "#000", font: { size: o.titleSize, weight: "bold" }, padding: vertical ? { top: o.titlePad, bottom: 0 } : { top: 0, bottom: o.titlePad } }
      : { display: false },
  };
}

const baseOptions = {
  responsive: false,
  animation: false,
  events: [],
};

// ---------------- panel builders ----------------
function boxPanel(p: {
  groups: string[]; counts: number[]; stats: BoxStats; jitter: number[][][]; outliers: number[][];
  yMin: number; yMax: number; yWidth: number; yTitlePad: number; yTickPad: number; padTop: number; padRight: number; labels: Label[];
}) {
  const datasets: any[] = [];
  p.outliers.forEach((vals, i) => {
    datasets.push({ data: vals.map((v) => ({ x: i + 1, y: v })), pointRadius: 1.8, pointBackgroundColor: "#000", pointBorderWidth: 0 });
  });
  p.jitter.forEach((pts, i) => {
    datasets.push({ data: jitterPts(i + 1, pts), pointRadius: 1.8, pointBackgroundColor: "rgba(35,35,35,0.75)", pointBorderWidth: 0 });
  });
  return {
    type: "scatter",
    data: { datasets },
    options: {
      ...baseOptions,
      layout: { padding: { left: 0, top: p.padTop, right: p.padRight, bottom: 0 } },
      plugins: { legend: { display: false }, tooltip: { enabled: false } },
      scales: {
        x: ggAxis({ min: 0.4, max: 2.6, breaks: [1, 2], labeled: [1, 2], major: [1, 2], size: 47, tickPad: 0,
          labelFn: (v: number) => [p.groups[v - 1], `(n=${p.counts[v - 1]})`] }, false),
        y: ggAxis({ min: p.yMin, max: p.yMax, breaks: [1, 2, 3, 4, 5, 6], labeled: [2, 4, 6], major: [2, 4, 6], size: p.yWidth,
          title: "log2(KIF15)", titleSize: 24, titlePad: p.yTitlePad, tickPad: p.yTickPad }, true),
      },
    },
    plugins: [bgPlugin(PANEL_BG), boxPlugin(p.stats), labelPlugin(p.labels)],
  };
}

function corrPanel(p: {
  points: number[][]; fit: number[]; lower: number[]; upper: number[]; gene: string;
  x: { min: number; max: number }; y: { min: number; max: number; breaks: number[]; labeled: number[]; major: number[] };
  yWidth: number; yTitlePad: number; yTickPad: number; xHeight: number; xTitlePad: number; padTop: number; padRight: number; labels: Label[];
}) {
  return {
    type: "scatter",
    data: {
      datasets: [
        { type: "line", data: zipPts(fitKif15, p.fit), borderColor: "#FF0000", borderWidth: 1.6, borderDash: [6, 4], pointRadius: 0, fill: false, tension: 0 },
        { type: "line", data: zipPts(fitKif15, p.upper), borderWidth: 0, pointRadius: 0, fill: false, tension: 0 },
        { type: "line", data: zipPts(fitKif15, p.lower), borderWidth: 0, pointRadius: 0, fill: "-1", backgroundColor: "rgba(150,150,150,0.45)", tension: 0 },
        { data: pairPts(p.points), pointRadius: 1.6, pointBackgroundColor: "#000", pointBorderWidth: 0 },
      ],
    },
    options: {
      ...baseOptions,
      layout: { padding: { left: 0, top: p.padTop, right: p.padRight, bottom: 0 } },
      plugins: { legend: { display: false }, tooltip: { enabled: false } },
      scales: {
        x: ggAxis({ min: p.x.min, max: p.x.max, breaks: [1, 2, 3, 4, 5, 6], labeled: [2, 4, 6], major: [2, 4, 6], size: p.xHeight,
          title: "KIF15", titleSize: 21, titlePad: p.xTitlePad, tickPad: 0 }, false),
        y: ggAxis({ min: p.y.min, max: p.y.max, breaks: p.y.breaks, labeled: p.y.labeled, major: p.y.major, size: p.yWidth,
          title: p.gene, titleSize: 25, titlePad: p.yTitlePad, tickPad: p.yTickPad }, true),
      },
    },
    plugins: [bgPlugin(PANEL_BG), labelPlugin(p.labels)],
  };
}

function buildA() {
  return boxPanel({
    groups: ageGroups, counts: ageCounts,
    stats: { q1: ageQ1, median: ageMedian, q3: ageQ3, lo: ageWhiskerLow, hi: ageWhiskerHigh, notch: ageNotch },
    jitter: [highAgeJitter, lowAgeJitter], outliers: [highAgeOutliers, lowAgeOutliers],
    yMin: 0.34, yMax: 6.45, yWidth: 52, yTitlePad: 7.3, yTickPad: 3, padTop: 26, padRight: 35,
    labels: [
      { text: "Age", x: 0, y: 12, size: 24, bold: true, centerX: true, align: "center" },
      { text: "a", x: 15, y: 22, size: 24, bold: true, align: "center" },
      { text: "P = 0.0007", x: 0.627, y: 5.98, size: 14.5, color: "#5A5A5A", data: true },
    ],
  });
}

function buildB() {
  return boxPanel({
    groups: gradeGroups, counts: gradeCounts,
    stats: { q1: gradeQ1, median: gradeMedian, q3: gradeQ3, lo: gradeWhiskerLow, hi: gradeWhiskerHigh, notch: gradeNotch },
    jitter: [g12Jitter, g3Jitter], outliers: [g12Outliers, g3Outliers],
    yMin: 0.37, yMax: 6.47, yWidth: 86, yTitlePad: 26.6, yTickPad: 6, padTop: 28, padRight: 2,
    labels: [
      { text: "Histologic Grade", x: 0, y: 12, size: 24, bold: true, centerX: true, align: "center" },
      { text: "b", x: 30, y: 22, size: 24, bold: true, align: "center" },
      { text: "P = 2.201e-05", x: 0.575, y: 5.96, size: 14.5, color: "#5A5A5A", data: true },
    ],
  });
}

function buildC() {
  return corrPanel({
    points: [...birc5Points, ...birc5CorePoints], fit: birc5Fit, lower: birc5Lower, upper: birc5Upper, gene: "BIRC5",
    x: { min: 0.14, max: 6.49 },
    y: { min: -0.24, max: 7.08, breaks: [0, 1, 2, 3, 4, 5, 6, 7], labeled: [2, 4, 6], major: [0, 2, 4, 6] },
    yWidth: 52, yTitlePad: 2.5, yTickPad: 3, xHeight: 52, xTitlePad: 2.4, padTop: 42, padRight: 34,
    labels: [
      { text: "c", x: 21, y: 35, size: 24, bold: true, align: "center" },
      { text: "Cor = 0.74", x: 0.78, y: 6.05, size: 14.5, color: "#5A5A5A", data: true },
      { text: "P < 2.2e-16", x: 0.78, y: 5.37, size: 14.5, color: "#5A5A5A", data: true },
    ],
  });
}

function buildD() {
  return corrPanel({
    points: [...hspd1Points, ...hspd1CorePoints], fit: hspd1Fit, lower: hspd1Lower, upper: hspd1Upper, gene: "HSPD1",
    x: { min: 0.16, max: 6.45 },
    y: { min: 6.44, max: 10.72, breaks: [6.5, 7, 7.5, 8, 8.5, 9, 9.5, 10, 10.5], labeled: [7, 8, 9, 10], major: [7, 8, 9, 10] },
    yWidth: 87, yTitlePad: 28, yTickPad: 7, xHeight: 52, xTitlePad: 2.4, padTop: 42, padRight: 3,
    labels: [
      { text: "d", x: 30, y: 28, size: 24, bold: true, align: "center" },
      { text: "Cor = 0.69", x: 0.76, y: 9.99, size: 14.5, color: "#5A5A5A", data: true },
      { text: "P < 2.2e-16", x: 0.76, y: 9.5, size: 14.5, color: "#5A5A5A", data: true },
    ],
  });
}

function buildE() {
  return corrPanel({
    points: [...tnfrsf1aPoints, ...tnfrsf1aCorePoints], fit: tnfFit, lower: tnfLower, upper: tnfUpper, gene: "TNFRSF1A",
    x: { min: 0.16, max: 6.49 },
    y: { min: 4.21, max: 9.19, breaks: [4.5, 5, 5.5, 6, 6.5, 7, 7.5, 8, 8.5, 9], labeled: [5, 6, 7, 8, 9], major: [5, 6, 7, 8, 9] },
    yWidth: 52, yTitlePad: 0.5, yTickPad: 3, xHeight: 45, xTitlePad: 0, padTop: 23, padRight: 34,
    labels: [
      { text: "e", x: 19, y: 13, size: 24, bold: true, align: "center" },
      { text: "Cor = -0.43", x: 0.73, y: 5.77, size: 14.5, color: "#5A5A5A", data: true },
      { text: "P < 2.2e-16", x: 0.73, y: 5.28, size: 14.5, color: "#5A5A5A", data: true },
    ],
  });
}

function buildF() {
  const yBreaks = [0, 0.2, 0.4, 0.6, 0.8, 1.0];
  const xBreaks = [0, 20, 40, 60, 80];
  const axisGrid = { drawOnChartArea: false, drawTicks: true, tickLength: 8, tickWidth: 2, tickColor: "#000", color: "#000", lineWidth: 2 };
  return {
    type: "scatter",
    data: {
      datasets: [
        { data: zipPts(kmLowCensorTime, kmLowCensorSurv), pointRadius: 2, pointBackgroundColor: "#000", pointBorderWidth: 0 },
        { data: zipPts(kmHighCensorTime, kmHighCensorSurv), pointRadius: 2, pointBackgroundColor: "#000", pointBorderWidth: 0 },
        { type: "line", label: kmSeries[0], data: zipPts(kmLowTime, kmLowSurv), borderColor: kmColors[0], borderWidth: 3, pointRadius: 0, fill: false, tension: 0 },
        { type: "line", label: kmSeries[1], data: zipPts(kmHighTime, kmHighSurv), borderColor: kmColors[1], borderWidth: 3, pointRadius: 0, fill: false, tension: 0 },
      ],
    },
    options: {
      ...baseOptions,
      layout: { padding: { left: 0, top: 55, right: 17, bottom: 0 } },
      plugins: { legend: { display: false }, tooltip: { enabled: false } },
      scales: {
        x: {
          type: "linear", min: 0, max: 80,
          afterBuildTicks: (s: any) => { s.ticks = xBreaks.map((v) => ({ value: v })); },
          afterFit: (s: any) => { s.height = 71; },
          ticks: { autoSkip: false, maxRotation: 0, padding: 5, color: "#000", font: { size: 20, weight: "bold" }, callback: (v: number) => String(v) },
          grid: axisGrid,
          border: { display: true, color: "#000", width: 2 },
          title: { display: true, text: "Time after surgery(months)", color: "#000", font: { size: 21, weight: "bold" }, padding: { top: 0, bottom: 0.4 } },
        },
        y: {
          type: "linear", min: 0, max: 1.1,
          afterBuildTicks: (s: any) => { s.ticks = yBreaks.map((v) => ({ value: v })); },
          afterFit: (s: any) => { s.width = 91; },
          ticks: { autoSkip: false, padding: 2, color: "#000", font: { size: 20, weight: "bold" }, callback: (v: number) => v.toFixed(1) },
          grid: axisGrid,
          border: { display: true, color: "#000", width: 2 },
          title: { display: true, text: "Percent survival", color: "#000", font: { size: 24, weight: "bold" }, padding: { top: 15.6, bottom: 0 } },
        },
      },
    },
    plugins: [
      kmLegendPlugin(kmSeries, kmColors),
      labelPlugin([
        { text: "f", x: 31, y: 21, size: 24, bold: true, align: "center" },
        { text: "P=0.0426", x: 3.3, y: 0.099, size: 19, bold: true, data: true },
      ]),
    ],
  };
}

const panels = [
  { key: "a", left: 0, top: 0, width: 397, height: 345, build: buildA },
  { key: "b", left: 397, top: 0, width: 398, height: 345, build: buildB },
  { key: "c", left: 0, top: 345, width: 397, height: 385, build: buildC },
  { key: "d", left: 397, top: 345, width: 398, height: 385, build: buildD },
  { key: "e", left: 0, top: 730, width: 397, height: 359, build: buildE },
  { key: "f", left: 397, top: 730, width: 398, height: 359, build: buildF },
];

function Panel({ left, top, width, height, build }: { left: number; top: number; width: number; height: number; build: () => any }) {
  const ref = useRef<HTMLCanvasElement>(null);
  useEffect(() => {
    if (!ref.current) return;
    const chart = new Chart(ref.current, build());
    return () => chart.destroy();
  }, [build]);
  return <canvas ref={ref} width={width} height={height} style={{ position: "absolute", left, top, width, height }} />;
}

export default function App() {
  return (
    <div style={{ position: "absolute", left: 0, top: 0, width: 795, height: 1089, background: "#fff", overflow: "hidden" }}>
      {panels.map((p) => (
        <Panel key={p.key} left={p.left} top={p.top} width={p.width} height={p.height} build={p.build} />
      ))}
    </div>
  );
}
